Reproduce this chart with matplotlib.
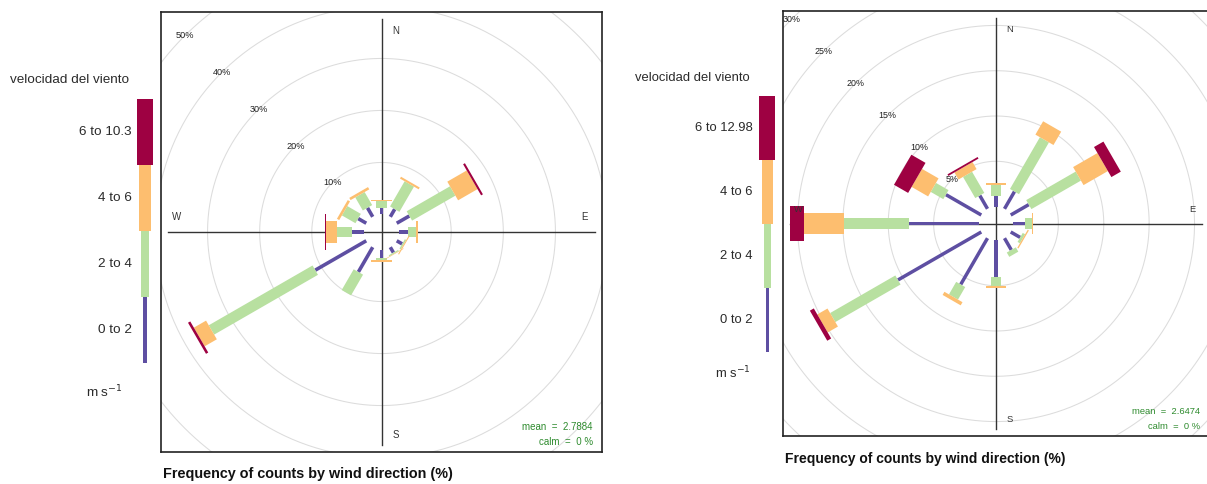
import numpy as np
import matplotlib.pyplot as plt
from matplotlib.patches import Polygon, Rectangle

plt.rcParams['font.family'] = ['Liberation Sans', 'DejaVu Sans']

W, H = 1207, 484

# wind directions (degrees, clockwise from north)
directions = [0, 30, 60, 90, 120, 150, 180, 210, 240, 270, 300, 330]
bin_colors = ['#5E4FA2', '#B8E0A0', '#FDBE6F', '#9E0142']

# left rose: frequency (%) of each speed bin per direction
left_bins = ['0 to 2', '2 to 4', '4 to 6', '6 to 10.3']
left_0_2 = [1.3, 1.7, 2.8, 1.7, 1.2, 1.2, 1.6, 5.5, 11.3, 2.2, 1.8, 2.0]
left_2_4 = [1.2, 5.6, 9.6, 1.6, 0.3, 0.25, 0.4, 4.6, 23.0, 2.9, 3.0, 2.9]
left_4_6 = [0.3, 0.4, 4.3, 0.3, 0.2, 0.1, 0.3, 0.0, 2.7, 2.1, 0.5, 0.5]
left_6_up = [0.0, 0.0, 0.4, 0.0, 0.0, 0.0, 0.0, 0.0, 0.5, 0.3, 0.0, 0.0]
left_mean = '2.7884'

# right rose
right_bins = ['0 to 2', '2 to 4', '4 to 6', '6 to 12.98']
right_0_2 = [1.2, 2.2, 2.3, 1.3, 1.2, 1.5, 4.0, 5.9, 10.6, 7.7, 4.5, 1.7]
right_2_4 = [1.2, 6.6, 6.3, 0.75, 0.3, 0.55, 1.05, 1.6, 8.3, 7.2, 1.6, 2.7]
right_4_6 = [0.2, 1.7, 3.1, 0.15, 0.15, 0.0, 0.15, 0.4, 1.3, 4.4, 2.1, 0.9]
right_6_up = [0.0, 0.0, 1.2, 0.0, 0.0, 0.0, 0.0, 0.0, 0.5, 1.5, 1.8, 0.2]
right_mean = '2.6474'

calm = '0 %'
legend_title = 'velocidad del viento'
units = 'm s$^{-1}$'
main_title = 'Frequency of counts by wind direction (%)'

fig = plt.figure(figsize=(W / 100, H / 100), dpi=100)


def fx(x):
    return x / W


def fy(y):
    return 1 - y / H


def rose(box, freqs, ring_step, scale, mean):
    x0, y0, x1, y1 = box
    ax = fig.add_axes([fx(x0), fy(y1), (x1 - x0) / W, (y1 - y0) / H])
    freqs = np.array(freqs, dtype=float)
    cum = np.cumsum(freqs, axis=0)
    top = cum[-1].max()
    off = 0.09 * top
    R = top + off
    lim = 1.035 * R
    ax.set_xlim(-lim, lim)
    ax.set_ylim(-lim, lim)
    ppu = (x1 - x0) / (2 * lim)

    # grey rings and their labels
    t = np.linspace(0, 2 * np.pi, 500)
    pct = ring_step
    while off + pct < lim * 1.45:
        r = off + pct
        ax.plot(r * np.cos(t), r * np.sin(t), color='#DCDCDC', lw=0.75, zorder=1)
        ax.text(-r * np.sin(np.pi / 4), r * np.cos(np.pi / 4), f'{pct}%',
                ha='center', va='center', fontsize=6.6 * scale, color='#222222',
                clip_on=True, zorder=2)
        pct += ring_step

    ax.plot([-R, R], [0, 0], color='#333333', lw=1.0, zorder=2)
    ax.plot([0, 0], [-R, R], color='#333333', lw=1.0, zorder=2)

    # paddles
    half = np.array([1.8, 5.4, 10.8, 18.0]) * scale / ppu
    start = np.vstack([np.zeros(len(directions)), cum[:-1]]) + off
    end = cum + off
    for i in range(len(freqs)):
        for j, d in enumerate(directions):
            if freqs[i, j] <= 0:
                continue
            th = np.radians(d)
            u = np.array([np.sin(th), np.cos(th)])
            v = np.array([np.cos(th), -np.sin(th)])
            a, b, w = start[i, j], end[i, j], half[i]
            pts = [a * u - w * v, b * u - w * v, b * u + w * v, a * u + w * v]
            ax.add_patch(Polygon(pts, closed=True, facecolor=bin_colors[i],
                                 edgecolor='none', zorder=3))

    fs = 7 * scale
    ax.text(0.068 * R, 0.945 * R, 'N', ha='center', va='center', fontsize=fs, color='#333333')
    ax.text(0.068 * R, -0.955 * R, 'S', ha='center', va='center', fontsize=fs, color='#333333')
    ax.text(0.955 * R, 0.07 * R, 'E', ha='center', va='center', fontsize=fs, color='#333333')
    ax.text(-0.96 * R, 0.07 * R, 'W', ha='center', va='center', fontsize=fs, color='#333333')

    bw, bh = x1 - x0, y1 - y0
    ax.text(1 - 9 / bw, 25 * scale / bh, f'mean  =  {mean}', transform=ax.transAxes,
            ha='right', va='center', fontsize=7 * scale, color='#2E8B2E')
    ax.text(1 - 9 / bw, 10 * scale / bh, f'calm  =  {calm}', transform=ax.transAxes,
            ha='right', va='center', fontsize=7 * scale, color='#2E8B2E')

    ax.set_xticks([])
    ax.set_yticks([])
    for s in ax.spines.values():
        s.set_linewidth(1.2)
        s.set_color('#222222')
    return ax


def key(xc, top, step, label_x, title_xy, units_xy, bins, scale):
    widths = [3.4, 7.3, 11.7, 16.6]
    for i, lab in enumerate(bins):
        yb = top + (len(bins) - 1 - i) * step
        w = widths[i] * scale
        fig.patches.append(Rectangle((fx(xc - w / 2), fy(yb + step)), w / W, step / H,
                                     transform=fig.transFigure, facecolor=bin_colors[i],
                                     edgecolor='none'))
        fig.text(fx(label_x), fy(yb + step / 2), lab, ha='right', va='center',
                 fontsize=9.7 * scale, color='#2A2A2A')
    fig.text(fx(title_xy[0]), fy(title_xy[1]), legend_title, ha='left', va='center',
             fontsize=9.7 * scale, color='#2A2A2A')
    fig.text(fx(units_xy[0]), fy(units_xy[1]), units, ha='right', va='center',
             fontsize=9.7 * scale, color='#2A2A2A')


left_freqs = [left_0_2, left_2_4, left_4_6, left_6_up]
right_freqs = [right_0_2, right_2_4, right_4_6, right_6_up]

rose((161, 12, 602, 452), left_freqs, 10, 1.0, left_mean)
rose((783, 11, 1209, 436), right_freqs, 5, 0.966, right_mean)

key(145, 99, 66, 132, (10, 80), (123, 392), left_bins, 1.0)
key(767.3, 96, 64, 753, (635, 78), (751, 373), right_bins, 0.966)

fig.text(fx(163), fy(474), main_title, ha='left', va='center', fontsize=10.4,
         fontweight='bold', color='#111111')
fig.text(fx(785), fy(459), main_title, ha='left', va='center', fontsize=10.0,
         fontweight='bold', color='#111111')

fig.savefig('out.png', dpi=100)
